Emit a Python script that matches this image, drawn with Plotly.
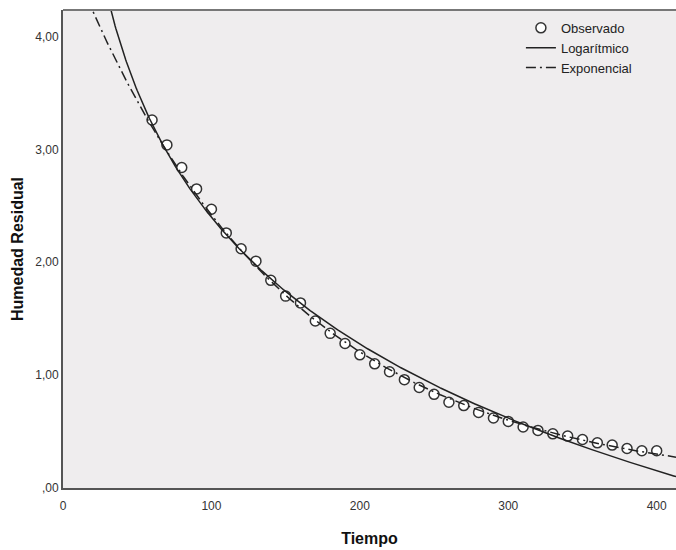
import numpy as np
import plotly.graph_objects as go

# Observed residual moisture over time
tiempo = [60, 70, 80, 90, 100, 110, 120, 130, 140, 150, 160, 170, 180, 190, 200,
          210, 220, 230, 240, 250, 260, 270, 280, 290, 300, 310, 320, 330, 340,
          350, 360, 370, 380, 390, 400]
humedad = [3.26, 3.04, 2.84, 2.65, 2.47, 2.26, 2.12, 2.01, 1.84, 1.70, 1.64, 1.48,
           1.37, 1.28, 1.18, 1.10, 1.03, 0.96, 0.89, 0.83, 0.76, 0.73, 0.67, 0.62,
           0.59, 0.54, 0.51, 0.48, 0.46, 0.43, 0.40, 0.38, 0.35, 0.33, 0.33]

x_tick_vals = [0, 100, 200, 300, 400]
x_tick_text = ["0", "100", "200", "300", "400"]
y_tick_vals = [0, 1, 2, 3, 4]
y_tick_text = [",00", "1,00", "2,00", "3,00", "4,00"]

X_MAX = 413
Y_MAX = 4.235

t = np.array(tiempo, dtype=float)
h = np.array(humedad, dtype=float)

# Logarithmic model: y = b0 + b1*ln(t)
b1_log, b0_log = np.polyfit(np.log(t), h, 1)
# Exponential model: y = b0*exp(b1*t), fitted on ln(y)
b1_exp, lnb0_exp = np.polyfit(t, np.log(h), 1)

xs = np.linspace(1, X_MAX, 800)
y_log = b0_log + b1_log * np.log(xs)
y_exp = np.exp(lnb0_exp) * np.exp(b1_exp * xs)

line_col = "#222222"
fig = go.Figure()
fig.add_trace(go.Scatter(
    x=tiempo, y=humedad, mode="markers", name="Observado",
    marker=dict(symbol="circle", size=10, color="white",
                line=dict(color="#333333", width=1.5)),
))
fig.add_trace(go.Scatter(
    x=xs, y=y_log, mode="lines", name="Logarítmico",
    line=dict(color=line_col, width=1.5),
))
fig.add_trace(go.Scatter(
    x=xs, y=y_exp, mode="lines", name="Exponencial",
    line=dict(color=line_col, width=1.5, dash="10px,4px,2px,4px"),
))

axis_font = dict(family="Arial, Liberation Sans, sans-serif", size=12, color="#333333")
fig.update_layout(
    width=676, height=550,
    margin=dict(l=63, r=0, t=10, b=62),
    paper_bgcolor="white",
    plot_bgcolor="#efedee",
    showlegend=True,
    legend=dict(x=0.747, y=0.994, xanchor="left", yanchor="top",
                bgcolor="rgba(0,0,0,0)", itemwidth=30, tracegroupgap=0,
                font=dict(family="Liberation Sans Narrow, Arial, sans-serif",
                          size=13, color="#222222")),
    xaxis=dict(range=[0, X_MAX], tickvals=x_tick_vals, ticktext=x_tick_text,
               showgrid=False, zeroline=False, showline=True, linecolor="#555555",
               linewidth=2, mirror=False, ticks="", tickfont=axis_font,
               ticklabelstandoff=6,
               title=dict(text="<b>Tiempo</b>", standoff=20,
                          font=dict(family="Arial, Liberation Sans, sans-serif",
                                    size=16, color="#111111"))),
    yaxis=dict(range=[0, Y_MAX], tickvals=y_tick_vals, ticktext=y_tick_text,
               showgrid=False, zeroline=False, showline=True, linecolor="#555555",
               linewidth=2, ticks="", tickfont=axis_font,
               title=dict(text="<b>Humedad Residual</b>", standoff=8,
                          font=dict(family="Arial, Liberation Sans, sans-serif",
                                    size=16, color="#111111"))),
)
# top border of the plot frame
fig.add_shape(type="line", xref="paper", yref="paper", x0=0, x1=1, y0=1, y1=1,
              line=dict(color="#777777", width=2))

fig.write_html("out.html")
